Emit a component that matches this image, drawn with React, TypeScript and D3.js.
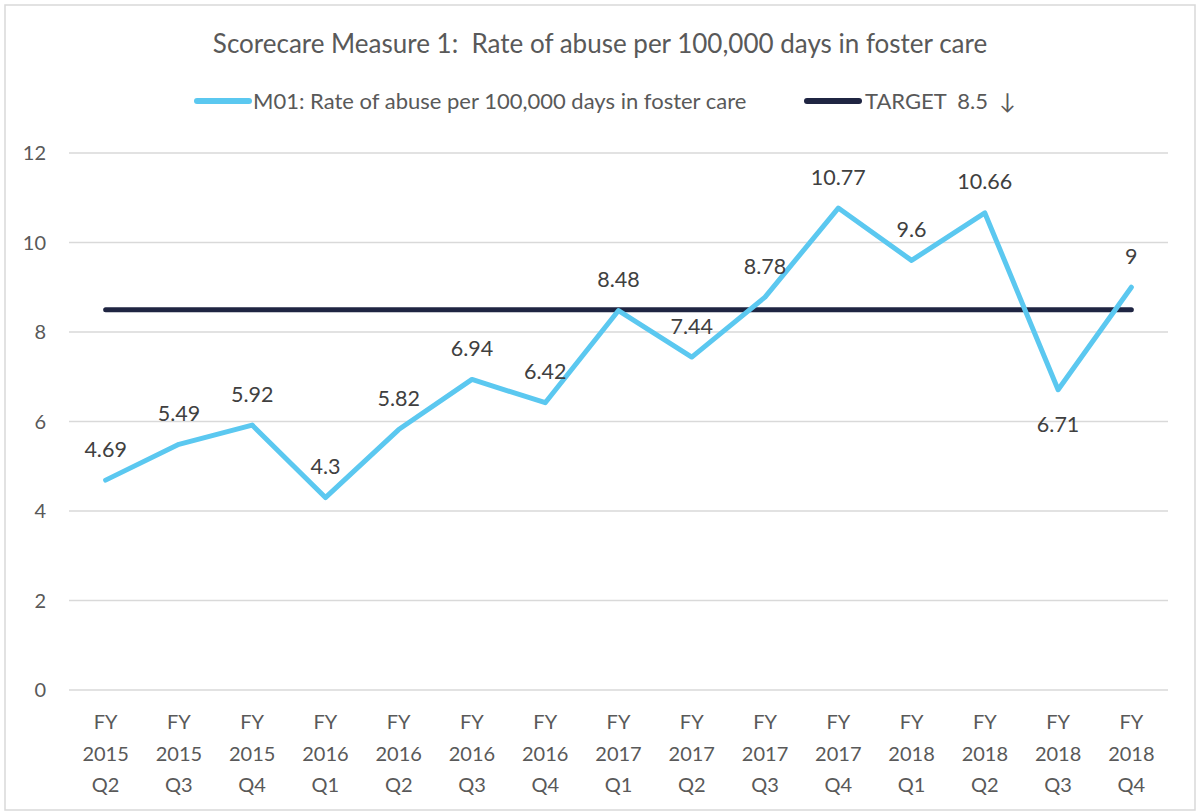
import React from "react";
import * as d3 from "d3";

const categories = [
  ["FY", "2015", "Q2"], ["FY", "2015", "Q3"], ["FY", "2015", "Q4"],
  ["FY", "2016", "Q1"], ["FY", "2016", "Q2"], ["FY", "2016", "Q3"], ["FY", "2016", "Q4"],
  ["FY", "2017", "Q1"], ["FY", "2017", "Q2"], ["FY", "2017", "Q3"], ["FY", "2017", "Q4"],
  ["FY", "2018", "Q1"], ["FY", "2018", "Q2"], ["FY", "2018", "Q3"], ["FY", "2018", "Q4"],
];
const values = [4.69, 5.49, 5.92, 4.3, 5.82, 6.94, 6.42, 8.48, 7.44, 8.78, 10.77, 9.6, 10.66, 6.71, 9];
const labelBelow = [false, false, false, false, false, false, false, false, false, false, false, false, false, true, false];
const target = 8.5;
const yTicks = [0, 2, 4, 6, 8, 10, 12];

const W = 1197, H = 812;
const FONT = "Lato, 'Open Sans', sans-serif";
const TXT = "#595959";
const BLUE = "#5BC8F0";
const DARK = "#1F2542";

export default function App() {
  const x = d3.scaleBand<number>().domain(d3.range(categories.length)).range([69, 1168]);
  const cx = (i: number) => (x(i) as number) + x.bandwidth() / 2;
  const y = d3.scaleLinear().domain([0, 12]).range([690, 153]);
  const line = d3.line<number>().x((_, i) => cx(i)).y((d) => y(d));
  const n = categories.length;
  return (
    <svg width={W} height={H} style={{ position: "fixed", left: 0, top: 0 }} fontFamily={FONT}>
      <rect x={0} y={0} width={W} height={H} fill="#fff" />
      <rect x={5} y={5} width={1190} height={805} fill="none" stroke="#D9D9D9" strokeWidth={1.5} />
      <text x={600} y={53} textAnchor="middle" fontSize={26} fill={TXT} style={{ whiteSpace: "pre" }}>
        Scorecare Measure 1:  Rate of abuse per 100,000 days in foster care
      </text>
      <line x1={197} x2={249} y1={101} y2={101} stroke={BLUE} strokeWidth={6} strokeLinecap="round" />
      <text x={253} y={101} dy="0.35em" fontSize={22} fill={TXT}>M01: Rate of abuse per 100,000 days in foster care</text>
      <line x1={807} x2={859} y1={101} y2={101} stroke={DARK} strokeWidth={6} strokeLinecap="round" />
      <text x={865} y={101} dy="0.35em" fontSize={22} fill={TXT} style={{ whiteSpace: "pre" }}>TARGET  8.5  ↓</text>
      {yTicks.map((t) => (
        <g key={t}>
          <line x1={69} x2={1168} y1={y(t)} y2={y(t)} stroke="#D9D9D9" strokeWidth={1.5} />
          <text x={46} y={y(t)} dy="0.35em" textAnchor="end" fontSize={20} fill={TXT}>{t}</text>
        </g>
      ))}
      {categories.map((c, i) => (
        <g key={i}>
          {c.map((s, j) => (
            <text key={j} x={cx(i)} y={722 + j * 31.5} dy="0.35em" textAnchor="middle" fontSize={20} fill={TXT}>{s}</text>
          ))}
        </g>
      ))}
      <line x1={cx(0)} x2={cx(n - 1)} y1={y(target)} y2={y(target)} stroke={DARK} strokeWidth={5} strokeLinecap="round" />
      <path d={line(values) as string} fill="none" stroke={BLUE} strokeWidth={5} strokeLinecap="round" strokeLinejoin="round" />
      {values.map((v, i) => (
        <text key={i} x={cx(i)} y={y(v) + (labelBelow[i] ? 35 : -31)} dy="0.35em" textAnchor="middle" fontSize={21.5} fill="#404040">{v}</text>
      ))}
    </svg>
  );
}
